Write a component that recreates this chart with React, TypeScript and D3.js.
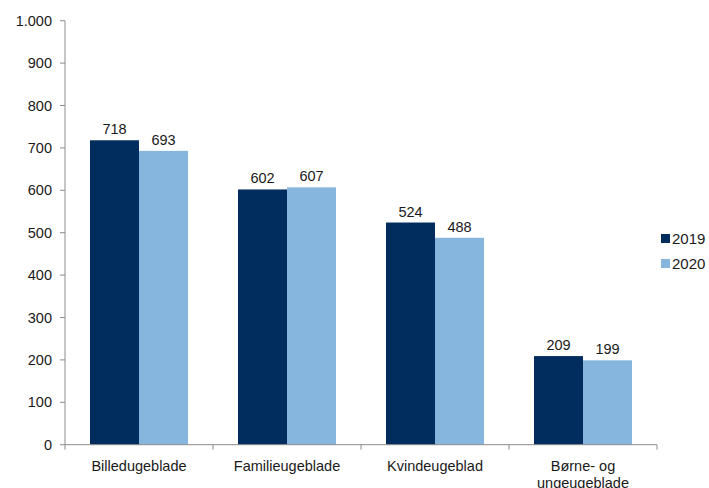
import React from "react";
import * as d3 from "d3";

const categories = ["Billedugeblade", "Familieugeblade", "Kvindeugeblad", "Børne- og\nungeugeblade"];
const series2019 = [718, 602, 524, 209];
const series2020 = [693, 607, 488, 199];
const seriesNames = ["2019", "2020"];
const yTicks = [0, 100, 200, 300, 400, 500, 600, 700, 800, 900, 1000];

const colors = ["#002D5E", "#86B6DE"];
const font = "'Liberation Sans', Arial, sans-serif";

export default function App() {
  const W = 709, H = 488;
  const x0 = 65, x1 = 657, yTop = 20.7, yBot = 444.7;
  const x = d3.scaleBand<string>().domain(categories).range([x0, x1]).paddingInner(0).paddingOuter(0);
  const y = d3.scaleLinear().domain([0, 1000]).range([yBot, yTop]);
  const groupPad = 25;
  const inner = d3.scaleBand<string>().domain(seriesNames).range([groupPad, x.bandwidth() - groupPad]).padding(0);
  const data = [series2019, series2020];
  const fmt = (v: number) => d3.format(",")(v).replace(/,/g, ".");
  const axisColor = "#8c8c8c";

  return (
    <svg width={W} height={H} style={{ position: "absolute", left: 0, top: 0, background: "#fff" }} fontFamily={font}>
      {/* y axis */}
      <line x1={x0} x2={x0} y1={yTop} y2={yBot} stroke={axisColor} strokeWidth={1} />
      {yTicks.map((t) => (
        <g key={t}>
          <line x1={x0 - 5} x2={x0} y1={y(t)} y2={y(t)} stroke={axisColor} />
          <text x={52} y={y(t)} dy="0.35em" textAnchor="end" fontSize={14.5} fill="#1a1a1a">
            {fmt(t)}
          </text>
        </g>
      ))}
      {/* bars */}
      {categories.map((c, i) =>
        seriesNames.map((s, j) => {
          const v = data[j][i];
          const bx = (x(c) as number) + (inner(s) as number);
          return (
            <g key={c + s}>
              <rect x={bx} y={y(v)} width={inner.bandwidth()} height={yBot - y(v)} fill={colors[j]} />
              <text x={bx + inner.bandwidth() / 2} y={y(v) - 6} textAnchor="middle" fontSize={14.5} fill="#1a1a1a">
                {v}
              </text>
            </g>
          );
        })
      )}
      {/* x axis */}
      <line x1={x0} x2={x1} y1={yBot} y2={yBot} stroke={axisColor} strokeWidth={1} />
      {[...categories.map((c) => x(c) as number), x1].map((tx, k) => (
        <line key={k} x1={tx} x2={tx} y1={yBot} y2={yBot + 5} stroke={axisColor} />
      ))}
      {categories.map((c) => {
        const lines = c.split("\n");
        const cx = (x(c) as number) + x.bandwidth() / 2;
        return (
          <text key={c} x={cx} y={471} textAnchor="middle" fontSize={14.5} fill="#1a1a1a">
            {lines.map((l, k) => (
              <tspan key={k} x={cx} dy={k === 0 ? 0 : 17}>
                {l}
              </tspan>
            ))}
          </text>
        );
      })}
      {/* legend */}
      {seriesNames.map((s, j) => (
        <g key={s}>
          <rect x={661} y={234 + j * 25} width={9} height={9} fill={colors[j]} />
          <text x={672} y={238.5 + j * 25} dy="0.35em" fontSize={15} fill="#1a1a1a">
            {s}
          </text>
        </g>
      ))}
    </svg>
  );
}
